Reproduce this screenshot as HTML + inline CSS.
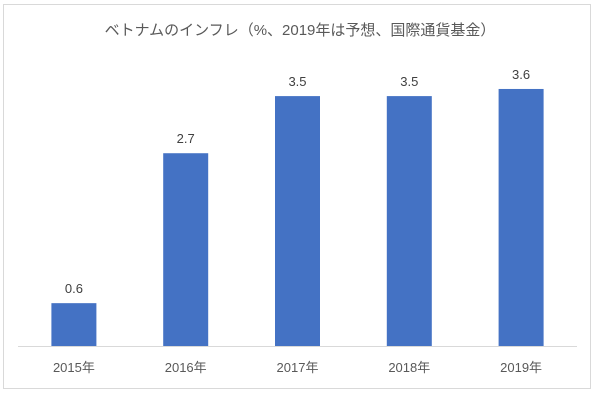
<!DOCTYPE html>
<html><head><meta charset="utf-8"><style>
body{margin:0;background:#fff;}
svg text{font-family:"Liberation Sans","Noto Sans CJK JP",sans-serif;}
</style></head><body>
<svg width="600" height="400" id="c">
<rect x="3.5" y="4.5" width="587" height="384" fill="#fff" stroke="#d9d9d9"/>
<text x="300" y="35" text-anchor="middle" font-size="15" fill="#595959">ベトナムのインフレ（%、2019年は予想、国際通貨基金）</text>
<line x1="18" y1="346.5" x2="577" y2="346.5" stroke="#d9d9d9"/>
<g id="bars"></g>
</svg>
<script>
const categories=["2015年","2016年","2017年","2018年","2019年"];
const values=[0.6,2.7,3.5,3.5,3.6];
const labels=["0.6","2.7","3.5","3.5","3.6"];
const x0=18,x1=577,base=346,pxPerUnit=71.4,bw=45;
const band=(x1-x0)/categories.length;
const xC=i=>x0+band*(i+0.5);
const yS=v=>base-v*pxPerUnit;
const g=document.getElementById('bars');
const NS="http://www.w3.org/2000/svg";
categories.forEach((c,i)=>{
 const r=document.createElementNS(NS,'rect');
 r.setAttribute('x',xC(i)-bw/2);r.setAttribute('y',yS(values[i]));
 r.setAttribute('width',bw);r.setAttribute('height',base-yS(values[i]));
 r.setAttribute('fill','#4472c4');
 
 
 g.appendChild(r);
 const t=document.createElementNS(NS,'text');
 t.setAttribute('x',xC(i));t.setAttribute('y',yS(values[i])-10);
 t.setAttribute('text-anchor','middle');t.setAttribute('font-size','13');t.setAttribute('fill','#404040');
 t.textContent=labels[i];
 
 
 g.appendChild(t);
 const l=document.createElementNS(NS,'text');
 l.setAttribute('x',xC(i));l.setAttribute('y',372);
 l.setAttribute('text-anchor','middle');l.setAttribute('font-size','13');l.setAttribute('fill','#595959');
 l.textContent=c;
 
 
 g.appendChild(l);
});
</script>
</body></html>
